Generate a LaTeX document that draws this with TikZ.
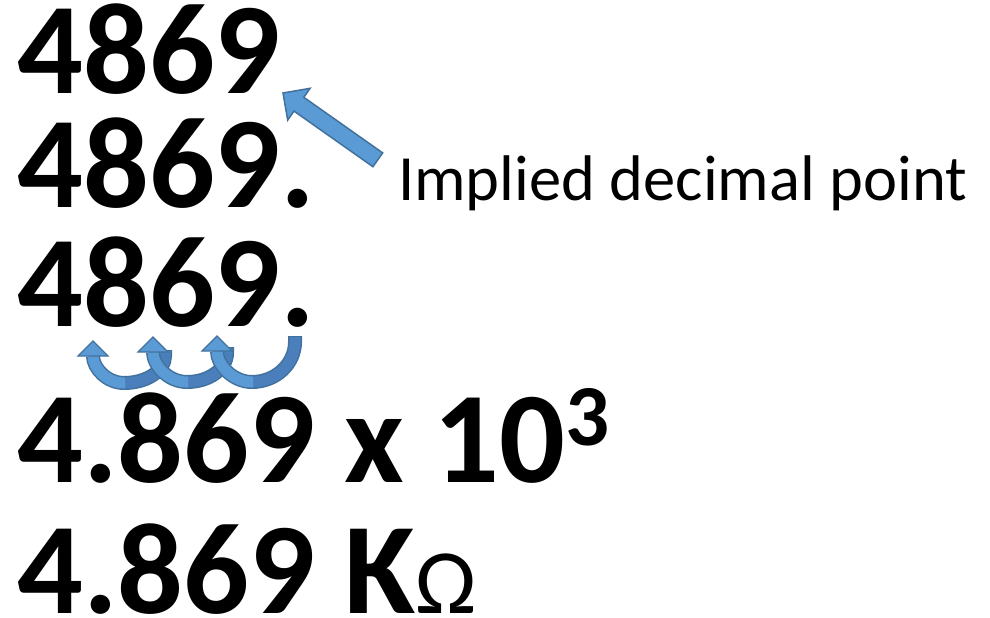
\documentclass[tikz,border=0pt]{standalone}
\usepackage{fontspec}
\setmainfont{Carlito}
\definecolor{afill}{HTML}{5B9BD5}
\definecolor{aline}{HTML}{41719C}
\definecolor{adark}{HTML}{4A7FBC}
\newcommand\myuarrow[7]{%
  % #1 tail x, #2 tail top y, #3 bottom x, #4 bottom y, #5 head x, #6 head base y, #7 tip y
  \draw[aline, line width=14pt] (#1,#2) -- (#1,#2+6) .. controls (#1,{#2+6+0.55*(#4-#2-6)}) and ({#3+0.55*(#1-#3)},#4) .. (#3,#4)
        .. controls ({#3-0.55*(#3-#5)},#4) and (#5,{#4-0.55*(#4-#6)}) .. (#5,#6);
  \draw[adark, line width=11pt] (#1,#2+1) -- (#1,#2+6) .. controls (#1,{#2+6+0.55*(#4-#2-6)}) and ({#3+0.55*(#1-#3)},#4) .. (#3,#4);
  \draw[afill, line width=11pt] (#3+1,#4) -- (#3,#4) .. controls ({#3-0.55*(#3-#5)},#4) and (#5,{#4-0.55*(#4-#6)}) .. (#5,#6);
  \filldraw[fill=afill, draw=aline, line width=1.2pt, line join=miter] (#5-15,#6) -- (#5,#7) -- (#5+15,#6) -- cycle;
}
\tikzset{
  bignum/.style={anchor=base west, inner sep=0pt, font=\fontsize{130}{130}\selectfont\bfseries},
  lbltext/.style={anchor=base west, inner sep=0pt, font=\fontsize{64.5}{64.5}\selectfont},
  blockarrow/.style={fill=afill, draw=aline, line width=1.5pt, line join=miter}
}
\begin{document}
\begin{tikzpicture}[x=1pt, y=-1pt]
\useasboundingbox (0,0) rectangle (990,618);
\node[bignum] (r1) at (17,93) {4869};
\node[bignum] (r2) at (17,207) {4869.};
\node[bignum] (r3) at (17,326) {4869.};
\node[bignum] (r4) at (17,482) {4.869 x 10\raisebox{37pt}{\fontsize{87}{87}\selectfont 3}};
\node[bignum] (r5) at (17,613) {4.869 K{\fontsize{92}{92}\selectfont\mdseries Ω}};
\node[lbltext] (lbl) at (398,200) {Implied decimal point};
% straight block arrow from label towards first number
\draw[blockarrow] (283,93) -- (310.1,88.3) -- (303.8,97.3) -- (382.7,152.9) -- (372.9,166.7)
   -- (294.0,111.1) -- (287.7,120.1) -- cycle;
% curved arrows under row 3
\myuarrow{165}{350}{124}{383}{93}{356}{341}
\myuarrow{227}{347}{187}{382}{153}{352}{337}
\myuarrow{295}{336}{252}{382}{217}{351}{336}
\end{tikzpicture}
\end{document}
